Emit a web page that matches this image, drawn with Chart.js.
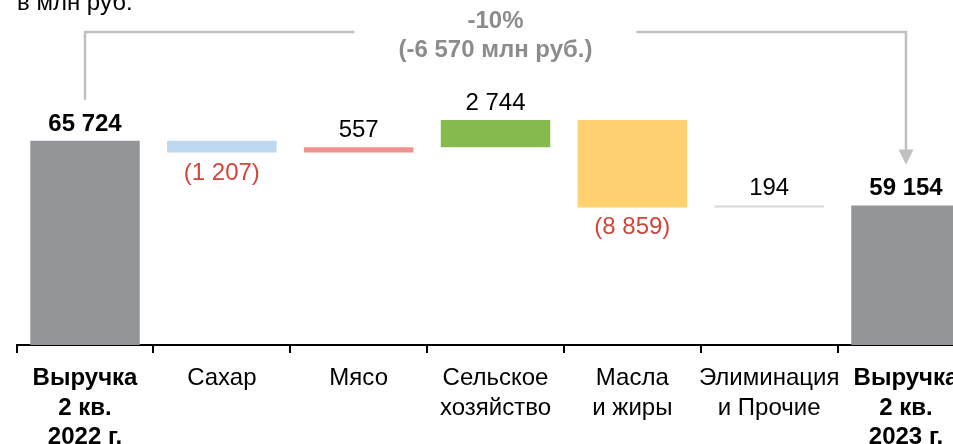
<!DOCTYPE html>
<html>
<head>
<meta charset="utf-8">
<script src="https://cdn.jsdelivr.net/npm/chart.js@4/dist/chart.umd.min.js"></script>
<style>
  html, body { margin: 0; padding: 0; overflow: hidden; background: #fff; }
  #wrap { width: 980px; height: 444px; }
</style>
</head>
<body>
<div id="wrap"><canvas id="chart" width="980" height="444"></canvas></div>
<script>
const categories = [
  ["Выручка", "2 кв.", "2022 г."],
  ["Сахар"],
  ["Мясо"],
  ["Сельское", "хозяйство"],
  ["Масла", "и жиры"],
  ["Элиминация", "и Прочие"],
  ["Выручка", "2 кв.", "2023 г."]
];
const startTotal = 65724;
const endTotal = 59154;
const deltas = [-1207, 557, 2744, -8859, 194];
const barColors = ["#939598", "#bdd7ee", "#f4908e", "#84bb4c", "#ffd26f", "#d9d9d9", "#939598"];
const changeText = ["-10%", "(-6 570 млн руб.)"];
const unitText = "в млн руб.";

const yMin = 45000;
const yMax = 80000;
const FONT = "Arial, 'Liberation Sans', sans-serif";

// waterfall ranges
let ranges = [[yMin, startTotal]];
let level = startTotal;
deltas.forEach((d) => {
  ranges.push([level, level + d]);
  level += d;
});
ranges.push([yMin, endTotal]);

function fmt(n) {
  const s = Math.abs(n).toString().replace(/\B(?=(\d{3})+(?!\d))/g, " ");
  return n < 0 ? "(" + s + ")" : s;
}

const labelsPlugin = {
  id: "waterfallLabels",
  afterDatasetsDraw(chart) {
    const ctx = chart.ctx;
    const bars = chart.getDatasetMeta(0).data;
    ctx.save();
    ctx.textAlign = "center";
    ctx.textBaseline = "alphabetic";
    bars.forEach((bar, i) => {
      const top = Math.min(bar.y, bar.base);
      const bottom = Math.max(bar.y, bar.base);
      if (i === 0 || i === bars.length - 1) {
        ctx.font = "bold 24px " + FONT;
        ctx.fillStyle = "#000";
        ctx.fillText(fmt(i === 0 ? startTotal : endTotal), bar.x, top - 10);
      } else {
        const d = deltas[i - 1];
        ctx.font = "24px " + FONT;
        if (d < 0) {
          ctx.fillStyle = "#d0463b";
          ctx.fillText(fmt(d), bar.x, bottom + 27);
        } else {
          ctx.fillStyle = "#000";
          ctx.fillText(fmt(d), bar.x, top - 10);
        }
      }
    });

    // bracket with arrow
    const b0 = bars[0], b1 = bars[bars.length - 1];
    const lineY = 32;
    const y0 = Math.min(b0.y, b0.base) - 41;
    const y1 = Math.min(b1.y, b1.base) - 41;
    const mid = (b0.x + b1.x) / 2;
    ctx.font = "bold 24px " + FONT;
    const gap = Math.max(...changeText.map((t) => ctx.measureText(t).width)) / 2 + 44;
    ctx.strokeStyle = "#c0c0c0";
    ctx.lineWidth = 2.5;
    ctx.beginPath();
    ctx.moveTo(b0.x, y0);
    ctx.lineTo(b0.x, lineY);
    ctx.lineTo(mid - gap, lineY);
    ctx.moveTo(mid + gap, lineY);
    ctx.lineTo(b1.x, lineY);
    ctx.lineTo(b1.x, y1 - 14);
    ctx.stroke();
    ctx.fillStyle = "#c0c0c0";
    ctx.beginPath();
    ctx.moveTo(b1.x - 7.5, y1 - 15);
    ctx.lineTo(b1.x + 7.5, y1 - 15);
    ctx.lineTo(b1.x, y1);
    ctx.closePath();
    ctx.fill();

    ctx.fillStyle = "#8c8c8c";
    ctx.fillText(changeText[0], mid, 28);
    ctx.fillText(changeText[1], mid, 57);

    ctx.textAlign = "left";
    ctx.font = "24px " + FONT;
    ctx.fillStyle = "#000";
    ctx.fillText(unitText, 17, 10);
    ctx.restore();
  }
};

new Chart(document.getElementById("chart"), {
  type: "bar",
  data: {
    labels: categories,
    datasets: [{
      data: ranges,
      backgroundColor: barColors,
      borderWidth: 0,
      borderSkipped: false,
      barPercentage: 0.8,
      categoryPercentage: 1.0
    }]
  },
  options: {
    responsive: false,
    animation: false,
    layout: { padding: { left: 16.6, right: 5.6, top: 0, bottom: 0 } },
    plugins: { legend: { display: false }, tooltip: { enabled: false } },
    scales: {
      y: { display: false, min: yMin, max: yMax },
      x: {
        afterFit(scale) { scale.height = 99; },
        border: { display: true, color: "#000", width: 2 },
        grid: {
          display: true,
          offset: true,
          drawOnChartArea: false,
          drawTicks: true,
          tickLength: 8,
          color: "#000",
          lineWidth: 2
        },
        ticks: {
          color: "#000",
          padding: 11,
          maxRotation: 0,
          autoSkip: false,
          font: (c) => ({
            family: FONT,
            size: 24,
            lineHeight: 1.22,
            weight: (c.index === 0 || c.index === 6) ? "bold" : "normal"
          })
        }
      }
    }
  },
  plugins: [labelsPlugin]
});
</script>
</body>
</html>
